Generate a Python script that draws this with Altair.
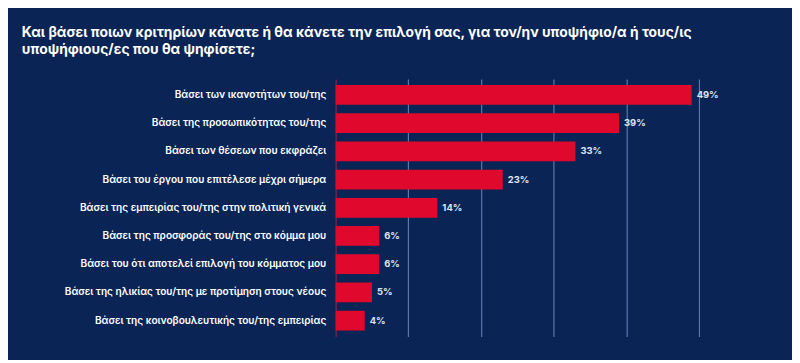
import altair as alt
import pandas as pd

categories = [
    "Βάσει των ικανοτήτων του/της",
    "Βάσει της προσωπικότητας του/της",
    "Βάσει των θέσεων που εκφράζει",
    "Βάσει του έργου που επιτέλεσε μέχρι σήμερα",
    "Βάσει της εμπειρίας του/της στην πολιτική γενικά",
    "Βάσει της προσφοράς του/της στο κόμμα μου",
    "Βάσει του ότι αποτελεί επιλογή του κόμματος μου",
    "Βάσει της ηλικίας του/της με προτίμηση στους νέους",
    "Βάσει της κοινοβουλευτικής του/της εμπειρίας",
]
values = [49, 39, 33, 23, 14, 6, 6, 5, 4]
labels = [f"{v}%" for v in values]

title_lines = [
    "Και βάσει ποιων κριτηρίων κάνατε ή θα κάνετε την επιλογή σας, για τον/ην υποψήφιο/α ή τους/ις",
    "υποψήφιους/ες που θα ψηφίσετε;",
]

df = pd.DataFrame({"cat": categories, "val": values, "lab": labels})

BG = "#0a2456"
BAR = "#e0082c"
FONT = "Inter"

x_enc = alt.X(
    "val:Q",
    scale=alt.Scale(domain=[0, 50], nice=False),
    axis=alt.Axis(
        values=[10, 20, 30, 40, 50],
        grid=True,
        gridColor="#5b78ac",
        gridWidth=1.2,
        labels=False,
        ticks=False,
        domain=False,
        title=None,
    ),
)
y_enc = alt.Y(
    "cat:N",
    sort=categories,
    scale=alt.Scale(paddingInner=0.3, paddingOuter=0.21),
    axis=alt.Axis(
        title=None,
        ticks=False,
        domain=True,
        domainColor="#7d1d4a",
        domainWidth=1.5,
        labelColor="#ffffff",
        labelFont=FONT,
        labelFontSize=10.2,
        labelFontWeight=600,
        labelPadding=10,
        labelLimit=400,
    ),
)

bars = alt.Chart(df).mark_bar(color=BAR, cornerRadius=0).encode(x=x_enc, y=y_enc)
text = alt.Chart(df).mark_text(
    align="left", baseline="middle", dx=5, color="#dfe5f0",
    font=FONT, fontSize=9.5, fontWeight="bold",
).encode(x="val:Q", y=alt.Y("cat:N", sort=categories), text="lab:N")

chart = (
    alt.layer(bars, text)
    .properties(
        width=367,
        height=260,
        background=BG,
        padding={"left": 14, "top": 17, "right": 74, "bottom": 22},
        title=alt.TitleParams(
            text=title_lines,
            anchor="start",
            frame="group",
            dx=-317,
            color="#ffffff",
            font=FONT,
            fontSize=14,
            fontWeight="bold",
            lineHeight=17,
            offset=22,
        ),
    )
    .configure_view(stroke=None)
)

chart.save("out.html", embed_options={"renderer": "svg", "actions": False})
